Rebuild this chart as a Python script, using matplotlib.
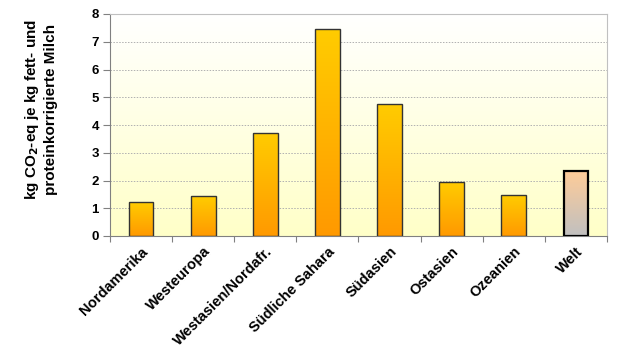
import numpy as np
import matplotlib.pyplot as plt
from matplotlib.colors import LinearSegmentedColormap
from matplotlib.patches import Rectangle

plt.rcParams['font.family'] = ['Liberation Sans', 'DejaVu Sans']

regions = ["Nordamerika", "Westeuropa", "Westasien/Nordafr.", "Südliche Sahara",
           "Südasien", "Ostasien", "Ozeanien", "Welt"]
emissions = [1.21, 1.44, 3.72, 7.45, 4.77, 1.96, 1.47, 2.34]

fig = plt.figure(figsize=(6.3, 3.56), dpi=100)
ax = fig.add_axes([110 / 630, 1 - 236 / 356, 497 / 630, 222 / 356])

x = np.arange(len(regions))
ax.set_xlim(-0.5, len(regions) - 0.5)
ax.set_ylim(0, 8)

# background: white on top fading to pale yellow
bg = LinearSegmentedColormap.from_list("bg", ["#FFFFC8", "#FFFFFF"])
grad = np.linspace(0, 1, 256).reshape(-1, 1)
ax.imshow(grad, cmap=bg, aspect="auto", extent=(-0.5, len(regions) - 0.5, 0, 8),
          origin="lower", zorder=0)

ax.yaxis.grid(True, color="#B0B0B0", linestyle=(0, (1.5, 1.5)), linewidth=0.7, zorder=1)
ax.set_axisbelow(True)

bar_cmap = LinearSegmentedColormap.from_list("bar", ["#FF9900", "#FFCC00"])
welt_cmap = LinearSegmentedColormap.from_list("welt", ["#C0C0C0", "#FFCC99"])

bars = ax.bar(x, emissions, width=0.4, color="none", zorder=3)
for i, b in enumerate(bars):
    last = regions[i] == "Welt"
    cm = welt_cmap if last else bar_cmap
    x0, w, h = b.get_x(), b.get_width(), b.get_height()
    im = ax.imshow(grad, cmap=cm, aspect="auto", extent=(x0, x0 + w, 0, h),
                   origin="lower", zorder=2)
    rect = Rectangle((x0, 0), w, h, transform=ax.transData)
    im.set_clip_path(rect)
    ax.add_patch(Rectangle((x0, 0), w, h, fill=False,
                           edgecolor="black" if last else "#333333",
                           linewidth=1.6 if last else 1.0, zorder=4))

ax.set_xlim(-0.5, len(regions) - 0.5)
ax.set_ylim(0, 8)

ax.set_yticks(range(0, 9))
ax.set_xticks(np.arange(-0.5, len(regions), 1.0))
ax.set_xticklabels([])
ax.set_xticks(x, minor=True)
ax.set_xticklabels(regions, minor=True, rotation=45, ha="right",
                   rotation_mode="anchor", fontsize=10.5, fontweight="bold")
ax.tick_params(axis="x", which="minor", length=0, pad=6)
ax.tick_params(axis="x", which="major", length=4, color="#808080")
ax.tick_params(axis="y", length=5, color="#808080", labelsize=9.5, pad=3)
for lab in ax.get_yticklabels():
    lab.set_fontweight("bold")

for s in ["left", "bottom"]:
    ax.spines[s].set_color("#808080")
for s in ["top", "right"]:
    ax.spines[s].set_color("#C0C0C0")

ax.set_ylabel("kg CO$_\\mathbf{2}$-eq je kg fett- und\nproteinkorrigierte Milch",
              fontsize=11, fontweight="bold", linespacing=1.25)
ax.yaxis.set_label_coords(-52 / 497, 0.568)

fig.savefig("out.png", dpi=100)
